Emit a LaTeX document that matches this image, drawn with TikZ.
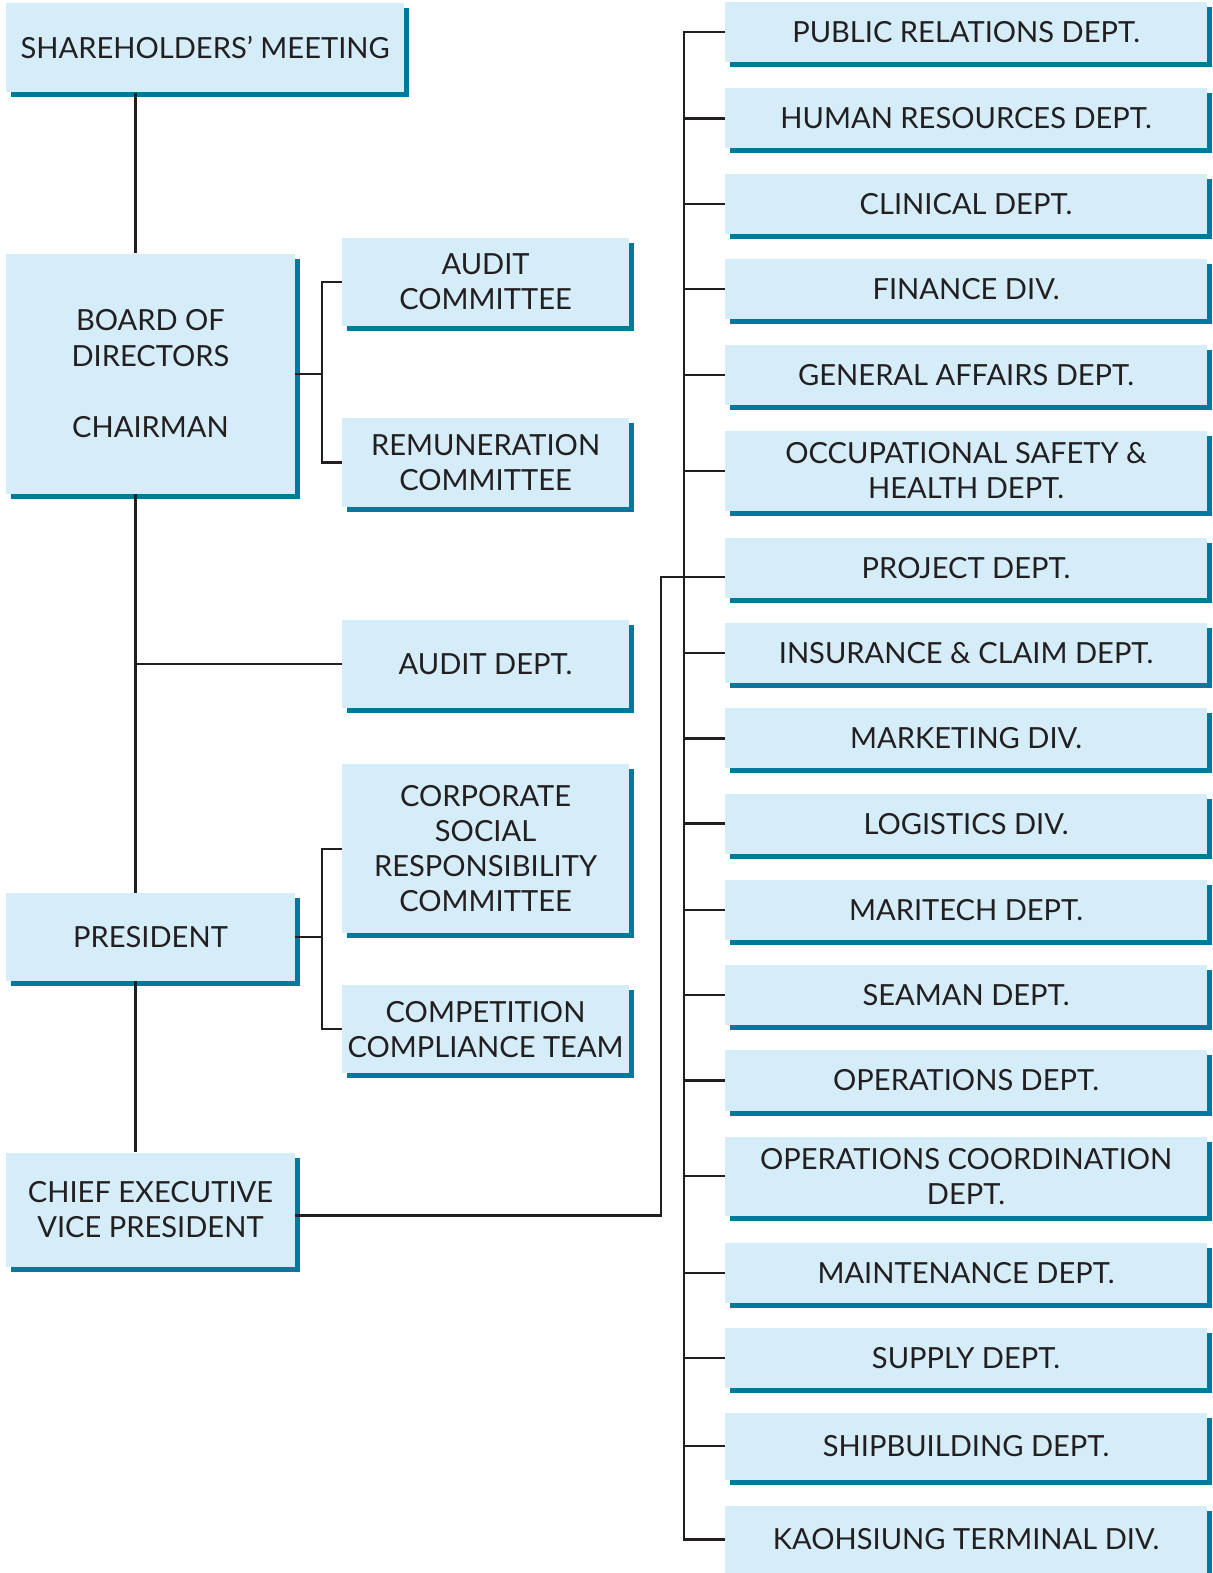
\documentclass[tikz,border=0pt]{standalone}
\usepackage{fontspec}
\setmainfont{Lato}
\usetikzlibrary{positioning, shadows}
\definecolor{boxfill}{HTML}{D5ECF9}
\definecolor{boxshade}{HTML}{00799A}
\definecolor{inkgray}{HTML}{231F20}
\tikzset{
  unit box/.style={fill=boxfill, text=inkgray, align=center, inner sep=0pt,
    font=\fontsize{16.5}{19.9}\selectfont,
    drop shadow={shadow xshift=0.1cm, shadow yshift=-0.1cm, fill=boxshade, opacity=1}},
  left box/.style={unit box, minimum width=5.76cm},
  mid box/.style={unit box, minimum width=5.72cm},
  dept box/.style={unit box, minimum width=9.6cm},
  link/.style={draw=inkgray, line width=1.3pt}
}
\begin{document}
\begin{tikzpicture}[x=0.02cm, y=-0.02cm]
  \useasboundingbox (0,0) rectangle (1209,1568);
  % left column
  \node[unit box, minimum width=7.94cm, minimum height=1.78cm] (share) at (204.5,47.5) {SHAREHOLDERS' MEETING};
  \node[left box, minimum height=4.78cm] (board) at (150,372.5) {BOARD OF\\DIRECTORS\\[0.72cm]CHAIRMAN};
  \node[left box, minimum height=1.76cm] (pres) at (150,934) {PRESIDENT};
  \node[left box, minimum height=2.28cm] (cevp) at (150,1206) {CHIEF EXECUTIVE\\VICE PRESIDENT};
  % middle column
  \node[mid box, minimum height=1.76cm] (acom) at (484,281) {AUDIT\\COMMITTEE};
  \node[mid box, minimum height=1.76cm] (rcom) at (484,461) {REMUNERATION\\COMMITTEE};
  \node[mid box, minimum height=1.76cm] (adept) at (484,662) {AUDIT DEPT.};
  \node[mid box, minimum height=3.36cm] (csr) at (484,846) {CORPORATE\\SOCIAL\\RESPONSIBILITY\\COMMITTEE};
  \node[mid box, minimum height=1.76cm] (cct) at (484,1026) {COMPETITION\\COMPLIANCE TEAM};
  % right column
  \foreach \nm/\yy/\hgt/\txt in {
      pr/32/60/{PUBLIC RELATIONS DEPT.},
      hr/118/60/{HUMAN RESOURCES DEPT.},
      cl/203/60/{CLINICAL DEPT.},
      fi/288/60/{FINANCE DIV.},
      ga/374/60/{GENERAL AFFAIRS DEPT.},
      os/469.5/79/{OCCUPATIONAL SAFETY \&\\HEALTH DEPT.},
      pj/566/60/{PROJECT DEPT.},
      in/651/60/{INSURANCE \& CLAIM DEPT.},
      mk/736/60/{MARKETING DIV.},
      lg/821/60/{LOGISTICS DIV.},
      mt/907/60/{MARITECH DEPT.},
      sm/992/60/{SEAMAN DEPT.},
      op/1077/60/{OPERATIONS DEPT.},
      oc/1172.5/79/{OPERATIONS COORDINATION\\DEPT.},
      mn/1269/60/{MAINTENANCE DEPT.},
      su/1354/60/{SUPPLY DEPT.},
      sb/1441.5/67/{SHIPBUILDING DEPT.},
      kt/1534.5/67/{KAOHSIUNG TERMINAL DIV.}}
    \node[dept box, minimum height=\hgt*0.02cm] (\nm) at (963,\yy) {\txt};
  % connectors, left side
  \coordinate (spine) at (135,0);
  \draw[link] (spine |- share.south) -- (spine |- board.north);
  \draw[link] (spine |- board.south) -- (spine |- pres.north);
  \draw[link] (spine |- pres.south) -- (spine |- cevp.north);
  \draw[link] (spine |- adept.west) -- (adept.west);
  \draw[link] (board.east) -- ++(27,0) coordinate (bj);
  \draw[link] (acom.west) -| (bj) |- (rcom.west);
  \draw[link] (pres.east) -- ++(27,0) coordinate (pj0);
  \draw[link] (csr.west) -| (pj0) |- (cct.west);
  % connectors, right side
  \coordinate (trunk) at (682,0);
  \coordinate (vp) at (659,0);
  \coordinate (pjin) at ([yshift=-0.18cm]pj.west);
  \coordinate (cvout) at ([yshift=-0.11cm]cevp.east);
  \draw[link] (pr.west) -| (trunk |- kt.west) -- (kt.west);
  \foreach \nm in {hr,cl,fi,ga,os,in,mk,lg,mt,sm,op,oc,mn,su,sb}
    \draw[link] (trunk |- \nm.west) -- (\nm.west);
  \draw[link] (cvout) -| (vp |- pjin) -- (pjin);
\end{tikzpicture}
\end{document}
